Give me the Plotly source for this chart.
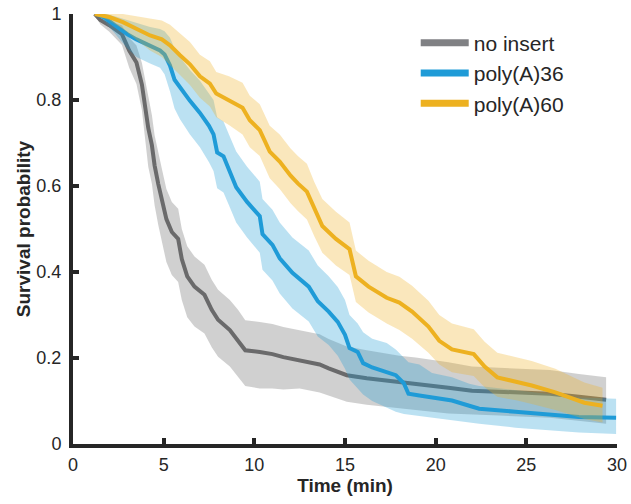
import plotly.graph_objects as go

# ---- data ----
gray_t = [1.2, 1.5, 2.0, 2.7, 3.1, 3.5, 3.8, 4.0, 4.15, 4.35, 4.5, 4.7, 4.9, 5.15, 5.45, 5.8, 6.0, 6.3, 6.7,
          7.25, 7.65, 8.0, 8.65, 9.1, 9.5, 10.3, 11.0, 11.6, 12.5, 13.6, 14.1, 15.1, 16.2, 18.0, 18.9, 20.7,
          22.0, 23.5, 26.3, 27.9, 29.4]
gray_v = [1.0, 0.986, 0.974, 0.953, 0.915, 0.887, 0.836, 0.78, 0.735, 0.695, 0.648, 0.605, 0.57, 0.523, 0.493,
          0.477, 0.43, 0.39, 0.366, 0.347, 0.312, 0.289, 0.265, 0.242, 0.218, 0.214, 0.209, 0.202, 0.195, 0.185,
          0.176, 0.16, 0.153, 0.145, 0.141, 0.131, 0.124, 0.122, 0.117, 0.11, 0.103]
gray_hi = [1.0, 0.991, 0.984, 0.973, 0.945, 0.927, 0.886, 0.84, 0.805, 0.765, 0.718, 0.675, 0.64, 0.593, 0.563,
           0.547, 0.5, 0.46, 0.436, 0.417, 0.382, 0.359, 0.335, 0.312, 0.288, 0.284, 0.279, 0.272, 0.265, 0.255,
           0.244, 0.227, 0.218, 0.205, 0.201, 0.19, 0.18, 0.177, 0.172, 0.163, 0.155]
gray_lo = [1.0, 0.976, 0.959, 0.928, 0.875, 0.837, 0.776, 0.70, 0.645, 0.605, 0.555, 0.51, 0.47, 0.423, 0.393,
           0.377, 0.335, 0.295, 0.273, 0.257, 0.225, 0.203, 0.18, 0.157, 0.135, 0.129, 0.129, 0.127, 0.129, 0.12,
           0.112, 0.098, 0.091, 0.083, 0.079, 0.071, 0.068, 0.066, 0.061, 0.054, 0.047]

blue_t = [1.3, 1.8, 2.3, 2.7, 3.0, 3.5, 4.25, 4.8, 5.05, 5.35, 5.6, 5.9, 6.45, 7.0, 7.5, 7.75, 7.95, 8.3, 8.6,
          9.0, 9.6, 10.3, 10.45, 11.0, 11.4, 12.1, 13.0, 13.5, 14.1, 14.6, 15.0, 15.25, 15.7, 16.0, 16.5, 17.3,
          17.8, 18.25, 18.5, 19.1, 19.8, 20.9, 21.85, 22.4, 24.4, 26.25, 27.9, 29.95]
blue_v = [1.0, 0.99, 0.974, 0.962, 0.953, 0.941, 0.927, 0.915, 0.906, 0.88, 0.847, 0.829, 0.798, 0.77, 0.74,
          0.72, 0.678, 0.669, 0.638, 0.597, 0.563, 0.53, 0.488, 0.463, 0.432, 0.398, 0.366, 0.332, 0.308, 0.284,
          0.254, 0.223, 0.214, 0.188, 0.178, 0.167, 0.16, 0.141, 0.117, 0.113, 0.108, 0.101, 0.089, 0.082, 0.075,
          0.068, 0.063, 0.061]
blue_hi = [1.0, 1.0, 0.995, 0.99, 0.985, 0.98, 0.97, 0.965, 0.96, 0.945, 0.92, 0.9, 0.87, 0.845, 0.815, 0.8,
           0.76, 0.75, 0.72, 0.68, 0.645, 0.61, 0.57, 0.545, 0.515, 0.48, 0.45, 0.415, 0.39, 0.365, 0.335, 0.3,
           0.28, 0.26, 0.245, 0.235, 0.22, 0.2, 0.19, 0.185, 0.165, 0.155, 0.14, 0.135, 0.125, 0.115, 0.108, 0.105]
blue_lo = [1.0, 0.98, 0.955, 0.935, 0.92, 0.9, 0.885, 0.875, 0.86, 0.82, 0.78, 0.755, 0.72, 0.69, 0.655, 0.635,
           0.595, 0.585, 0.555, 0.515, 0.48, 0.445, 0.405, 0.38, 0.35, 0.315, 0.285, 0.25, 0.23, 0.205, 0.175,
           0.15, 0.13, 0.115, 0.1, 0.085, 0.075, 0.07, 0.068, 0.065, 0.062, 0.056, 0.05, 0.047, 0.038, 0.032,
           0.027, 0.023]

yel_t = [1.2, 2.0, 2.75, 3.5, 4.25, 4.9, 5.35, 5.9, 6.45, 7.0, 7.55, 7.9, 8.6, 9.35, 9.75, 10.3, 10.85, 11.4,
         12.0, 12.4, 12.9, 13.3, 13.75, 14.5, 15.25, 15.6, 16.3, 17.3, 18.0, 18.7, 19.6, 20.2, 20.9, 22.1, 22.7,
         23.4, 24.5, 25.3, 26.6, 27.5, 28.2, 29.2]
yel_v = [1.0, 0.993, 0.981, 0.965, 0.95, 0.941, 0.927, 0.904, 0.883, 0.855, 0.838, 0.815, 0.8, 0.782, 0.753,
         0.73, 0.68, 0.657, 0.624, 0.606, 0.587, 0.547, 0.507, 0.477, 0.453, 0.39, 0.366, 0.34, 0.329, 0.308,
         0.273, 0.24, 0.22, 0.209, 0.18, 0.155, 0.145, 0.136, 0.12, 0.106, 0.096, 0.089]
yel_hi = [1.0, 1.0, 1.0, 0.995, 0.99, 0.985, 0.975, 0.955, 0.935, 0.905, 0.89, 0.865, 0.855, 0.84, 0.81, 0.79,
          0.74, 0.72, 0.687, 0.67, 0.652, 0.61, 0.57, 0.54, 0.515, 0.45, 0.426, 0.4, 0.389, 0.368, 0.333, 0.3,
          0.28, 0.267, 0.238, 0.212, 0.2, 0.193, 0.175, 0.158, 0.143, 0.131]
yel_lo = [1.0, 0.985, 0.965, 0.94, 0.915, 0.9, 0.882, 0.858, 0.835, 0.805, 0.785, 0.76, 0.742, 0.72, 0.69, 0.67,
          0.618, 0.593, 0.56, 0.542, 0.522, 0.484, 0.445, 0.415, 0.393, 0.33, 0.306, 0.28, 0.265, 0.245, 0.212,
          0.185, 0.167, 0.158, 0.132, 0.11, 0.101, 0.093, 0.079, 0.067, 0.058, 0.05]

series_names = ["no insert", "poly(A)36", "poly(A)60"]
x_ticks = [0, 5, 10, 15, 20, 25, 30]
y_ticks = [0, 0.2, 0.4, 0.6, 0.8, 1]
y_tick_text = ["0", "0.2", "0.4", "0.6", "0.8", "1"]

# ---- styles ----
line_colors = ["#6a6a6b", "#1f9bd7", "#edb120"]
legend_colors = ["#808184", "#1f9bd7", "#edb120"]
band_colors = ["rgba(150,150,150,0.45)", "rgba(30,155,212,0.30)", "rgba(237,177,32,0.30)"]
FONT = "Liberation Sans, Arial, Helvetica, sans-serif"
INK = "#262626"

fig = go.Figure()

data = [
    (gray_t, gray_v, gray_lo, gray_hi),
    (blue_t, blue_v, blue_lo, blue_hi),
    (yel_t, yel_v, yel_lo, yel_hi),
]

for i, (t, v, lo, hi) in enumerate(data):
    fig.add_trace(go.Scatter(
        x=list(t) + list(t)[::-1], y=list(hi) + list(lo)[::-1],
        fill="toself", fillcolor=band_colors[i], line=dict(width=0),
        mode="lines", hoverinfo="skip", showlegend=False))
    fig.add_trace(go.Scatter(
        x=t, y=v, mode="lines", line=dict(color=line_colors[i], width=4),
        name=series_names[i], showlegend=False))

# legend entries
for i, name in enumerate(series_names):
    fig.add_trace(go.Scatter(
        x=[None], y=[None], mode="lines", name=name,
        line=dict(color=legend_colors[i], width=7), showlegend=True))

fig.update_layout(
    width=631, height=504,
    margin=dict(l=73, r=14, t=14, b=60),
    plot_bgcolor="white", paper_bgcolor="white",
    font=dict(family=FONT, size=18, color=INK),
    showlegend=True,
    legend=dict(x=0.63, y=0.98, xanchor="left", yanchor="top",
                bgcolor="rgba(0,0,0,0)", borderwidth=0,
                font=dict(size=21, color=INK), itemwidth=48,
                tracegroupgap=0),
    xaxis=dict(range=[0, 30], tickvals=x_ticks, ticks="inside", ticklen=6, tickwidth=3.5,
               tickcolor=INK, showline=True, linewidth=4, linecolor=INK, showgrid=False,
               zeroline=False, automargin=False,
               title=dict(text="<b>Time (min)</b>", font=dict(size=19), standoff=6),
               ticklabelstandoff=1),
    yaxis=dict(range=[0, 1], tickvals=y_ticks, ticktext=y_tick_text, ticks="inside", ticklen=6,
               tickwidth=3.5, tickcolor=INK, showline=True, linewidth=4, linecolor=INK,
               showgrid=False, zeroline=False, automargin=False,
               title=dict(text="<b>Survival probability</b>", font=dict(size=19), standoff=2),
               ticklabelstandoff=4),
)

fig.write_html("out.html", config={"displayModeBar": False},
               post_script="document.body.style.margin='0';document.body.style.padding='0';")
